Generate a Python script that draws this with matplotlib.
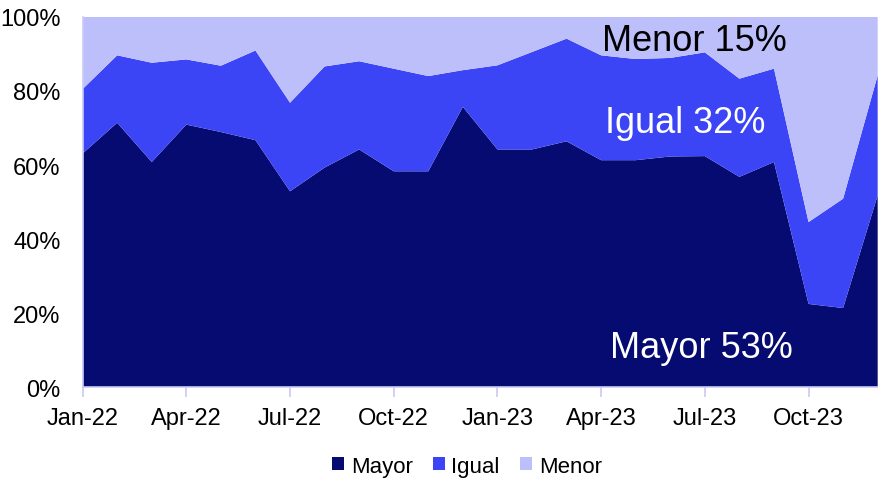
import matplotlib.pyplot as plt
from matplotlib.ticker import PercentFormatter, MultipleLocator
import numpy as np

plt.rcParams['font.family'] = ['Liberation Sans', 'DejaVu Sans']

# Distribución mensual de respuestas (% del total)
meses = ['Jan-22', 'Feb-22', 'Mar-22', 'Apr-22', 'May-22', 'Jun-22',
         'Jul-22', 'Aug-22', 'Sep-22', 'Oct-22', 'Nov-22', 'Dec-22',
         'Jan-23', 'Feb-23', 'Mar-23', 'Apr-23', 'May-23', 'Jun-23',
         'Jul-23', 'Aug-23', 'Sep-23', 'Oct-23', 'Nov-23', 'Dec-23']
mayor = [63.1, 71.4, 60.8, 70.9, 68.9, 66.7, 52.9, 59.3, 64.2, 58.3, 58.3, 75.7,
         64.2, 64.2, 66.4, 61.3, 61.3, 62.3, 62.4, 56.8, 60.8, 22.5, 21.4, 51.8]
igual = [17.4, 18.2, 26.8, 17.6, 17.9, 24.2, 23.9, 27.3, 23.8, 27.7, 25.7, 9.9,
         22.7, 26.3, 27.7, 28.3, 27.3, 26.6, 28.0, 26.5, 25.2, 22.1, 29.5, 32.4]
menor = [100 - m - i for m, i in zip(mayor, igual)]

colores = ['#050B70', '#3B45F5', '#BDBFFB']
etiquetas = ['Mayor', 'Igual', 'Menor']

x = np.arange(len(meses))

fig = plt.figure(figsize=(8.79, 4.81), dpi=100)
ax = fig.add_axes([0.094, 0.1927, 0.9045, 0.7703])

ax.stackplot(x, mayor, igual, menor, colors=colores, labels=etiquetas, linewidth=0)

ax.set_xlim(0, len(meses) - 1)
ax.set_ylim(0, 100)
ax.yaxis.set_major_locator(MultipleLocator(20))
ax.yaxis.set_major_formatter(PercentFormatter(decimals=0))
ax.set_xticks(x[::3])
ax.set_xticklabels(meses[::3])

ax.tick_params(axis='x', length=7, width=1.2, color='#C8CAF5', pad=7, labelsize=17)
ax.tick_params(axis='y', length=0, pad=16, labelsize=17)
for lado in ['top', 'right']:
    ax.spines[lado].set_visible(False)
for lado in ['left', 'bottom']:
    ax.spines[lado].set_color('#C8CAF5')
    ax.spines[lado].set_linewidth(1.2)

# Etiquetas de promedio sobre las áreas
ax.text(17.71, 91.0, 'Menor 15%', fontsize=26, color='black', ha='center', va='baseline')
ax.text(17.42, 69.0, 'Igual 32%', fontsize=26, color='white', ha='center', va='baseline')
ax.text(17.90, 8.2, 'Mayor 53%', fontsize=26, color='white', ha='center', va='baseline')

fig.legend(loc='center', bbox_to_anchor=(0.531, 0.029), ncol=3, frameon=False,
           fontsize=16, handlelength=0.55, handleheight=0.55, handletextpad=0.3,
           columnspacing=0.9)

fig.savefig('out.png', dpi=100)
